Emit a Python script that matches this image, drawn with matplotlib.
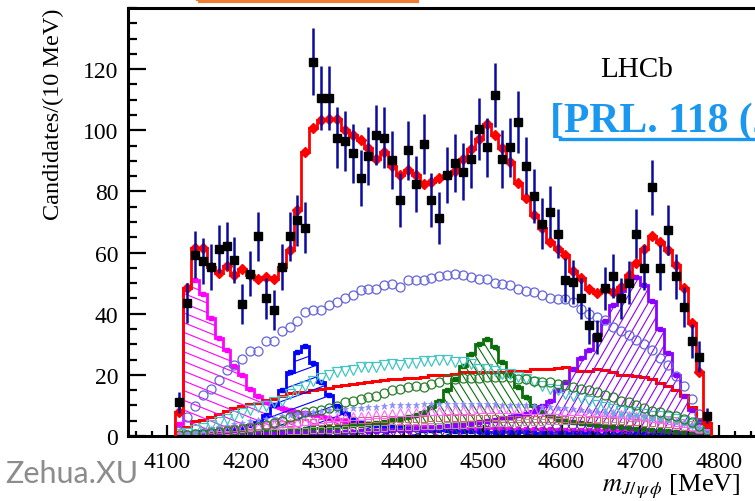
import matplotlib
matplotlib.use('Agg')
import matplotlib.pyplot as plt
import numpy as np
from matplotlib.patches import Polygon, Rectangle
from matplotlib.collections import LineCollection
from matplotlib.lines import Line2D
from matplotlib.ticker import MultipleLocator

plt.rcParams['font.family'] = 'Liberation Serif'
plt.rcParams['mathtext.fontset'] = 'stix'

# 10 MeV bins, 4110 - 4790
edges = np.arange(4110, 4791, 10)
centers = edges[:-1] + 5

counts = [11.0, 43.5, 59.3, 57.2, 55.3, 61.3, 62.2, 57.5, 43.3, 53.1,
          65.3, 45.1, 41.2, 55.3, 65.3, 70.5, 68.2, 122.5, 110.5, 110.5,
          97.6, 96.5, 92.5, 84.5, 91.6, 98.5, 97.6, 90.3, 77.3, 93.4,
          82.4, 95.4, 77.3, 71.4, 85.3, 89.4, 86.4, 90.6, 100.4, 94.4,
          111.6, 90.6, 94.4, 102.6, 88.4, 78.6, 69.5, 73.3, 66.2, 51.1,
          50.4, 45.1, 36.2, 32.4, 48.3, 52.4, 45.1, 50.2, 66.2, 55.1,
          81.3, 55.1, 67.3, 52.2, 42.2, 31.0, 26.0, 6.7]

total_fit = [7.8, 48.4, 61.5, 61.5, 55.3, 53.4, 55.6, 52.6, 54.5, 52.8,
             51.3, 52.0, 51.5, 55.3, 60.8, 73.9, 93.0, 100.7, 103.4, 103.6,
             103.8, 100.1, 98.3, 96.8, 94.3, 90.6, 92.8, 88.3, 85.3, 87.0,
             85.3, 82.4, 83.2, 84.5, 85.3, 86.6, 90.6, 93.8, 97.2, 102.0,
             98.5, 94.3, 89.7, 82.6, 77.7, 72.2, 68.1, 63.5, 61.3, 59.1,
             53.9, 51.7, 48.2, 46.9, 48.1, 47.2, 48.7, 52.8, 56.6, 61.3,
             65.3, 63.5, 60.8, 55.8, 48.5, 37.0, 20.9, 4.3]

x4140 = [4.0, 48.5, 51.0, 46.5, 38.5, 32.0, 28.0, 23.0, 20.0, 15.5,
         13.0, 11.0, 10.0, 9.0, 8.5, 8.0, 7.5, 7.0, 6.5, 6.0,
         5.5, 5.0, 4.6, 4.3, 4.0, 3.8, 3.6, 3.4, 3.3, 3.2,
         3.0, 3.0, 2.9, 2.9, 2.8, 2.8, 2.7, 2.7, 2.6, 2.6,
         2.5, 2.5, 2.4, 2.4, 2.3, 2.3, 2.2, 2.2, 2.1, 2.1,
         2.0, 2.0, 1.9, 1.9, 1.8, 1.8, 1.7, 1.7, 1.6, 1.5,
         1.5, 1.4, 1.3, 1.2, 1.0, 0.8, 0.6, 0.3]

x4274 = [0.5, 1.0, 1.3, 1.5, 1.7, 1.9, 2.1, 2.3, 2.5, 3.5,
         4.5, 7.0, 10.2, 15.0, 21.0, 27.5, 29.6, 23.8, 17.6, 13.5,
         9.8, 7.4, 5.6, 4.6, 4.0, 3.5, 3.1, 2.8, 2.6, 2.4,
         2.2, 2.1, 2.0, 1.9, 1.8, 1.7, 1.6, 1.5, 1.5, 1.4,
         1.4, 1.3, 1.3, 1.2, 1.2, 1.1, 1.1, 1.0, 1.0, 1.0,
         0.9, 0.9, 0.9, 0.8, 0.8, 0.8, 0.7, 0.7, 0.7, 0.6,
         0.6, 0.6, 0.5, 0.5, 0.4, 0.4, 0.3, 0.2]

x4500 = [0.3, 0.4, 0.5, 0.6, 0.7, 0.8, 0.9, 1.0, 1.1, 1.2,
         1.3, 1.4, 1.5, 1.7, 1.9, 2.1, 2.3, 2.5, 2.7, 2.9,
         3.1, 3.3, 3.5, 3.7, 4.0, 4.3, 4.7, 5.2, 5.6, 6.2,
         6.8, 7.8, 9.4, 11.6, 14.9, 18.7, 23.0, 26.9, 30.2, 31.8,
         29.1, 24.2, 19.8, 16.0, 12.7, 9.9, 7.8, 6.5, 5.6, 5.0,
         4.5, 4.1, 3.8, 3.5, 3.2, 3.0, 2.8, 2.6, 2.4, 2.2,
         2.0, 1.8, 1.6, 1.4, 1.2, 0.9, 0.6, 0.3]

x4700 = [0.2, 0.3, 0.3, 0.4, 0.4, 0.5, 0.5, 0.6, 0.6, 0.7,
         0.7, 0.8, 0.8, 0.9, 0.9, 1.0, 1.0, 1.1, 1.1, 1.2,
         1.2, 1.3, 1.4, 1.5, 1.6, 1.7, 1.8, 1.9, 2.0, 2.1,
         2.2, 2.4, 2.6, 2.9, 3.2, 3.5, 3.8, 4.1, 4.5, 4.9,
         5.3, 5.8, 6.3, 6.8, 7.2, 8.3, 9.7, 11.6, 14.9, 17.6,
         22.0, 25.5, 28.0, 33.0, 37.5, 42.7, 47.5, 51.5, 52.0, 49.5,
         44.0, 35.0, 27.0, 20.0, 13.0, 8.5, 4.5, 2.0]

nonres = [1.5, 6.1, 9.9, 13.4, 15.4, 18.4, 21.6, 23.1, 25.2, 27.8,
          27.8, 31.2, 31.2, 34.5, 35.6, 37.5, 40.5, 41.1, 41.3, 42.9,
          43.8, 45.1, 46.2, 47.6, 48.0, 48.2, 49.3, 49.8, 48.8, 51.1,
          51.1, 50.9, 51.6, 52.3, 52.6, 53.0, 52.6, 52.0, 51.5, 51.3,
          50.2, 49.6, 49.3, 48.2, 47.3, 47.1, 46.0, 45.1, 44.9, 44.9,
          43.8, 41.6, 40.0, 38.9, 37.8, 35.8, 34.5, 32.9, 31.5, 30.1,
          28.2, 25.6, 23.3, 19.7, 16.2, 12.1, 7.2, 3.0]

cyan_tri = [0.5, 1.0, 1.8, 2.5, 3.5, 4.5, 5.5, 6.5, 7.5, 8.5,
            9.4, 9.9, 11.0, 11.4, 13.8, 14.9, 16.5, 18.1, 18.9, 19.8,
            20.9, 21.4, 21.7, 22.5, 22.5, 22.5, 23.3, 23.6, 23.3, 23.9,
            23.9, 24.5, 24.6, 24.7, 24.7, 24.2, 24.2, 23.6, 22.0, 22.0,
            21.4, 20.3, 20.3, 19.2, 18.7, 17.6, 16.3, 15.4, 14.9, 13.8,
            13.2, 12.3, 11.6, 10.2, 9.4, 8.9, 8.3, 7.8, 7.8, 7.2,
            6.7, 6.5, 6.1, 5.6, 5.0, 3.9, 2.8, 1.5]

red_broad = [0.5, 2.8, 5.0, 5.2, 6.1, 7.2, 8.3, 9.1, 9.9, 10.5,
             10.8, 11.9, 12.1, 13.2, 14.1, 14.3, 14.4, 14.9, 15.3, 15.8,
             16.2, 16.6, 17.0, 17.3, 17.6, 17.9, 18.2, 18.5, 18.7, 18.9,
             19.0, 19.2, 19.8, 19.8, 19.8, 20.2, 20.9, 20.9, 20.9, 20.9,
             20.9, 20.9, 21.2, 21.4, 21.4, 22.0, 22.0, 22.0, 22.3, 22.5,
             21.8, 21.4, 21.4, 22.0, 21.6, 20.9, 20.0, 19.8, 19.5, 19.2,
             18.5, 17.5, 16.5, 14.9, 13.5, 9.4, 5.6, 2.5]

green_circ = [0.2, 0.4, 0.6, 0.8, 1.0, 1.2, 1.5, 1.8, 2.2, 2.6,
              3.1, 3.7, 4.3, 5.0, 6.1, 6.9, 7.8, 8.2, 8.6, 9.1,
              9.9, 11.0, 11.6, 12.1, 12.7, 13.2, 14.0, 14.9, 15.4, 16.0,
              16.5, 16.0, 17.0, 17.8, 18.5, 18.7, 18.9, 18.9, 18.9, 19.2,
              19.2, 19.2, 19.2, 18.7, 18.5, 18.1, 17.8, 17.6, 17.0, 16.7,
              16.0, 15.4, 14.9, 14.3, 13.4, 12.7, 11.6, 11.0, 10.2, 9.1,
              8.3, 7.8, 6.9, 6.5, 5.6, 4.5, 3.4, 2.0]

lav_star = [0.3, 0.8, 1.3, 1.8, 2.3, 2.8, 3.3, 3.8, 4.3, 4.8,
            5.2, 5.6, 6.0, 6.4, 6.8, 7.2, 7.5, 7.8, 8.1, 8.4,
            8.6, 8.8, 9.0, 9.2, 9.4, 9.6, 9.8, 10.0, 10.1, 10.2,
            10.3, 10.4, 10.5, 10.5, 10.6, 10.6, 10.6, 10.6, 10.5, 10.5,
            10.4, 10.3, 10.2, 10.1, 10.0, 9.8, 9.6, 9.4, 9.2, 9.0,
            8.8, 8.5, 8.2, 7.9, 7.6, 7.3, 7.0, 6.7, 6.4, 6.1,
            5.8, 5.5, 5.1, 4.7, 4.2, 3.5, 2.6, 1.4]

pink_tri = [0.2, 0.5, 0.8, 1.1, 1.4, 1.7, 2.0, 2.3, 2.6, 2.9,
            3.2, 3.5, 3.8, 4.1, 4.4, 4.7, 5.0, 5.3, 5.6, 5.9,
            6.1, 6.3, 6.5, 6.7, 6.9, 7.1, 7.3, 7.5, 7.7, 7.9,
            8.0, 8.1, 8.2, 8.3, 8.4, 8.5, 8.6, 8.6, 8.7, 8.7,
            8.7, 8.7, 8.7, 8.7, 8.6, 8.6, 8.5, 8.5, 8.4, 8.3,
            8.2, 8.1, 8.0, 7.9, 7.7, 7.5, 7.3, 7.0, 6.7, 6.4,
            6.0, 5.6, 5.2, 4.7, 4.1, 3.4, 2.5, 1.3]

brown_sq = [0.2, 0.6, 1.0, 1.4, 1.8, 2.1, 2.4, 2.7, 3.0, 3.2,
            3.4, 3.6, 3.8, 4.0, 4.2, 4.4, 4.5, 4.6, 4.7, 4.8,
            4.9, 5.0, 5.1, 5.2, 5.3, 5.4, 5.5, 5.5, 5.6, 5.6,
            5.7, 5.7, 5.8, 5.8, 5.8, 5.8, 5.8, 5.8, 5.8, 5.8,
            5.8, 5.7, 5.7, 5.7, 5.6, 5.6, 5.5, 5.5, 5.4, 5.4,
            5.3, 5.3, 5.2, 5.1, 5.0, 4.9, 4.8, 4.7, 4.6, 4.4,
            4.2, 4.0, 3.8, 3.5, 3.1, 2.6, 1.9, 1.0]

gray_sq = [0.1, 0.2, 0.3, 0.4, 0.5, 0.6, 0.7, 0.8, 0.9, 1.0,
           1.1, 1.2, 1.3, 1.4, 1.5, 1.6, 1.7, 1.8, 1.9, 2.0,
           2.1, 2.2, 2.3, 2.4, 2.5, 2.6, 2.7, 2.8, 2.9, 3.0,
           3.1, 3.2, 3.3, 3.4, 3.5, 3.6, 3.7, 3.8, 3.9, 4.0,
           4.1, 4.2, 4.3, 4.4, 4.5, 4.6, 4.7, 4.8, 4.9, 5.0,
           5.1, 5.2, 5.3, 5.4, 5.5, 5.6, 5.7, 5.8, 5.8, 5.8,
           5.7, 5.6, 5.4, 5.1, 4.6, 3.8, 2.7, 1.3]

fig = plt.figure(figsize=(7.55, 5.02), dpi=100)
ax = fig.add_axes([128/755, 65/502, 670/755, 428/502])
ax.set_xlim(4050, 4900)
ax.set_ylim(0, 140)


def hatched(vals, color, angle, gap):
    vals = np.asarray(vals)
    xs = np.repeat(edges, 2)
    ys = np.concatenate([[0], np.repeat(vals, 2), [0]])
    poly = Polygon(np.column_stack([xs, ys]), closed=True,
                   facecolor='none', edgecolor='none')
    ax.add_patch(poly)
    W = 670.0
    H = 428.0
    th = np.radians(angle)
    d = np.array([np.cos(th), np.sin(th)])
    n = np.array([-np.sin(th), np.cos(th)])
    L = W + H
    segs = []
    for c in np.arange(-L, L, gap):
        p0 = c * n - L * d
        p1 = c * n + L * d
        segs.append([(p0[0] / W, p0[1] / H), (p1[0] / W, p1[1] / H)])
    lc = LineCollection(segs, colors=color, linewidths=0.8, transform=ax.transAxes)
    ax.add_collection(lc, autolim=False)
    lc.set_clip_path(poly)
    ax.stairs(vals, edges, color=color, lw=2.0)
    ax.plot(centers, vals, 's', color=color, ms=2.5)


hatched(x4140, '#ff00ff', -22, 9)
hatched(x4274, '#0000ff', 20, 11)
hatched(x4500, '#0a6e0a', -58, 7)
hatched(x4700, '#8a00ff', 60, 7)

ax.plot(centers, gray_sq, 's', mfc='none', mec='#b09a9a', ms=4.5, mew=0.8)
ax.plot(centers, brown_sq, 's', mfc='none', mec='#c86a6a', ms=4.5, mew=0.8)
ax.plot(centers, pink_tri, '^', mfc='none', mec='#ff66ff', ms=6, mew=0.8)
ax.plot(centers, lav_star, '*', color='#8c8cff', ms=4.5, mew=0.5)

ax.plot(centers, nonres, 'o', mfc='none', mec='#6464dc', ms=6.5, mew=0.9)
ax.plot(centers, cyan_tri, 'v', mfc='none', mec='#45c4c4', ms=7, mew=0.9)
ax.stairs(red_broad, edges, color='#ff0000', lw=2.2)
ax.plot(centers, green_circ, 'o', mfc='none', mec='#2a7d2a', ms=6.5, mew=0.9)

ax.stairs(total_fit, edges, color='#ff0000', lw=2.0, zorder=8)
ax.plot(centers, total_fit, 'D', color='#ff0000', ms=5, zorder=8)

counts_arr = np.asarray(counts)
ax.errorbar(centers, counts_arr, yerr=np.sqrt(counts_arr), fmt='s', color='black',
            ms=6, ecolor='#0a0aa0', elinewidth=1.8, capsize=0, zorder=10)

for s in ax.spines.values():
    s.set_linewidth(2.2)
ax.set_xticks(np.arange(4100, 4801, 100))
ax.set_yticks(np.arange(0, 121, 20))
ax.xaxis.set_minor_locator(MultipleLocator(20))
ax.yaxis.set_minor_locator(MultipleLocator(5))
ax.tick_params(axis='x', which='major', direction='in', length=8, width=1.6,
               labelsize=17, pad=11)
ax.tick_params(axis='x', which='minor', direction='in', length=3.5, width=1.6)
ax.tick_params(axis='y', which='major', direction='in', length=13, width=1.6,
               labelsize=17, pad=7)
ax.tick_params(axis='y', which='minor', direction='in', length=6.5, width=1.6)

fig.text(53/755, 1 - 8/502, 'Candidates/(10 MeV)', rotation=90, ha='center',
         va='top', fontsize=17.5)
fig.text(602/755, 11/502, r'$m_{J/\,\psi\,\phi}$ [MeV]', ha='left',
         va='baseline', fontsize=19)
fig.text(637/755, 1 - 70/502, 'LHCb', ha='center', va='center', fontsize=21)

fig.text(550/755, 1 - 131.5/502, '[PRL. 118 (2017) 022003]', color='#1a98f0',
         fontweight='bold', fontsize=30, ha='left', va='baseline')
fig.add_artist(Line2D([560/755, 1.2], [1 - 140/502, 1 - 140/502],
                      color='#1a98f0', lw=2.4, transform=fig.transFigure))

fig.add_artist(Rectangle((198/755, 1 - 2/502), (417 - 198)/755, 0.1,
                         transform=fig.transFigure, fill=False,
                         edgecolor='#ED7D31', lw=3))

fig.text(5/755, 19/502, 'Zehua.XU', fontfamily='Lato', fontsize=22,
         color='#8c8c8c', ha='left', va='baseline')

plt.savefig('out.png', dpi=100)
